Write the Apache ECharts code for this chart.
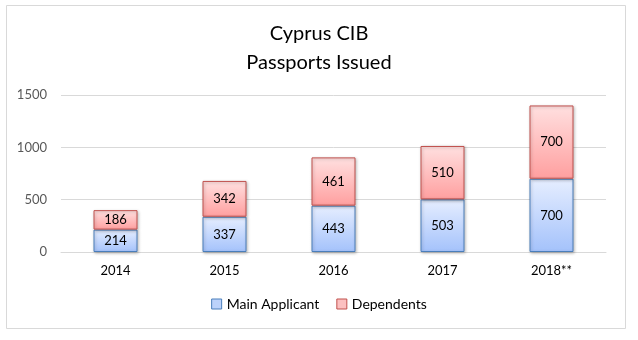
<!DOCTYPE html>
<html>
<head>
<meta charset="utf-8">
<script src="https://cdn.jsdelivr.net/npm/echarts@6/dist/echarts.min.js"></script>
<style>html,body{margin:0;padding:0;background:#fff;}#c{width:638px;height:340px;}</style>
</head>
<body>
<div id="c"></div>
<script>
var categories = ['2014', '2015', '2016', '2017', '2018**'];
var mainApplicant = [214, 337, 443, 503, 700];
var dependents = [186, 342, 461, 510, 700];
var yTicks = [0, 500, 1000, 1500];

var FONT = 'Lato, "Open Sans", sans-serif';
var chart = echarts.init(document.getElementById('c'), null, {renderer: 'canvas'});
function grad(top, bottom) {
  return new echarts.graphic.LinearGradient(0, 0, 0, 1, [
    {offset: 0, color: top}, {offset: 1, color: bottom}
  ]);
}
chart.setOption({
  animation: false,
  backgroundColor: '#fff',
  title: {
    text: 'Cyprus CIB\nPassports Issued',
    left: 'center',
    top: 14,
    textStyle: {fontFamily: FONT, fontSize: 20, fontWeight: 'normal', color: '#000', lineHeight: 29}
  },
  graphic: [{
    type: 'rect',
    shape: {x: 6.5, y: 5.5, width: 619, height: 323},
    style: {fill: 'none', stroke: '#d9d9d9', lineWidth: 1},
    silent: true, z: -1
  }],
  legend: {
    bottom: 24,
    left: 'center',
    itemWidth: 10,
    itemHeight: 10,
    itemGap: 17,
    icon: 'rect',
    textStyle: {fontFamily: FONT, fontSize: 14, color: '#000'},
    data: [
      {name: 'Main Applicant', itemStyle: {color: '#bcd2fa', borderColor: '#4a7ebb', borderWidth: 1}},
      {name: 'Dependents', itemStyle: {color: '#fcc0c0', borderColor: '#c0504d', borderWidth: 1}}
    ]
  },
  grid: {left: 61, right: 32, top: 95, bottom: 88},
  xAxis: {
    type: 'category',
    data: categories,
    axisLine: {lineStyle: {color: '#d9d9d9'}},
    axisTick: {show: false},
    axisLabel: {fontFamily: FONT, fontSize: 13, color: '#000', margin: 12}
  },
  yAxis: {
    type: 'value',
    min: yTicks[0],
    max: yTicks[yTicks.length - 1],
    interval: 500,
    axisLine: {show: false},
    axisTick: {show: false},
    splitLine: {lineStyle: {color: '#d9d9d9'}},
    axisLabel: {fontFamily: FONT, fontSize: 13, color: '#595959', margin: 14,
      formatter: function (v) { return String(v); }}
  },
  series: [{
    name: 'Main Applicant',
    type: 'bar',
    stack: 'total',
    barWidth: 44,
    data: mainApplicant,
    itemStyle: {color: grad('#e6eeff', '#a4c2fb'), borderColor: '#4a7ebb', borderWidth: 1,
      shadowColor: 'rgba(0,0,0,0.25)', shadowBlur: 3, shadowOffsetX: 1, shadowOffsetY: 1},
    label: {show: true, position: 'inside', fontFamily: FONT, fontSize: 13, color: '#000'}
  }, {
    name: 'Dependents',
    type: 'bar',
    stack: 'total',
    barWidth: 44,
    data: dependents,
    itemStyle: {color: grad('#ffe0e0', '#ff9f9f'), borderColor: '#c0504d', borderWidth: 1,
      shadowColor: 'rgba(0,0,0,0.25)', shadowBlur: 3, shadowOffsetX: 1, shadowOffsetY: 1},
    label: {show: true, position: 'inside', fontFamily: FONT, fontSize: 13, color: '#000'}
  }]
});
</script>
</body>
</html>
